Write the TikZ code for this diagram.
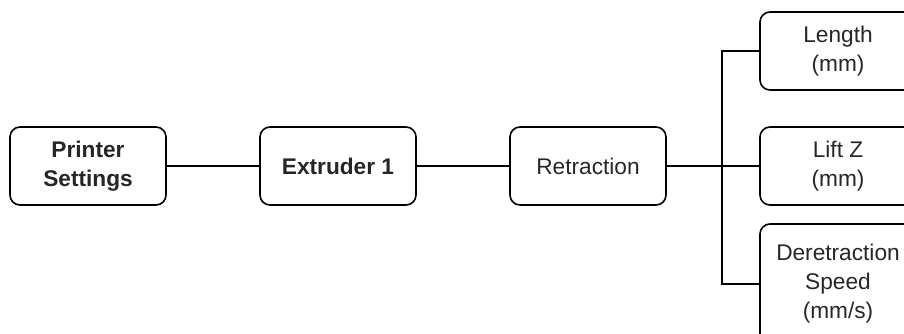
\documentclass[tikz,border=0pt]{standalone}
\usepackage{fontspec}
\setmainfont{Liberation Sans}
\begin{document}
\begin{tikzpicture}[x=0.75pt,y=-0.75pt,
  box/.style={draw=black,line width=1.2pt,rounded corners=7.5pt,align=center,
    minimum width=117pt,minimum height=58.5pt,inner sep=0pt,
    font=\fontsize{17}{21.75}\selectfont,text=black!85},
  conn/.style={draw=black,line width=1.2pt}]
\useasboundingbox (0,0) rectangle (904,333);
\clip (0,0) rectangle (904,333);
\node[box,font=\fontsize{17}{21.75}\selectfont\bfseries] (P) at (88,166) {Printer\\Settings};
\node[box,font=\fontsize{17}{21.75}\selectfont\bfseries] (E) at (338,166) {Extruder 1};
\node[box] (R) at (588,166) {Retraction};
\node[box] (L) at (838,51) {Length\\(mm)};
\node[box] (Z) at (838,166) {Lift Z\\(mm)};
\node[box,minimum height=90pt] (D) at (838,284) {Deretraction\\Speed\\(mm/s)};
\coordinate (J) at (722,166);
\draw[conn] (P.east) -- (E.west);
\draw[conn] (E.east) -- (R.west);
\draw[conn] (R.east) -- (J) -- (Z.west);
\draw[conn] (L.west) -- (L.west -| J) -- (D.west -| J) -- (D.west);
\end{tikzpicture}
\end{document}
